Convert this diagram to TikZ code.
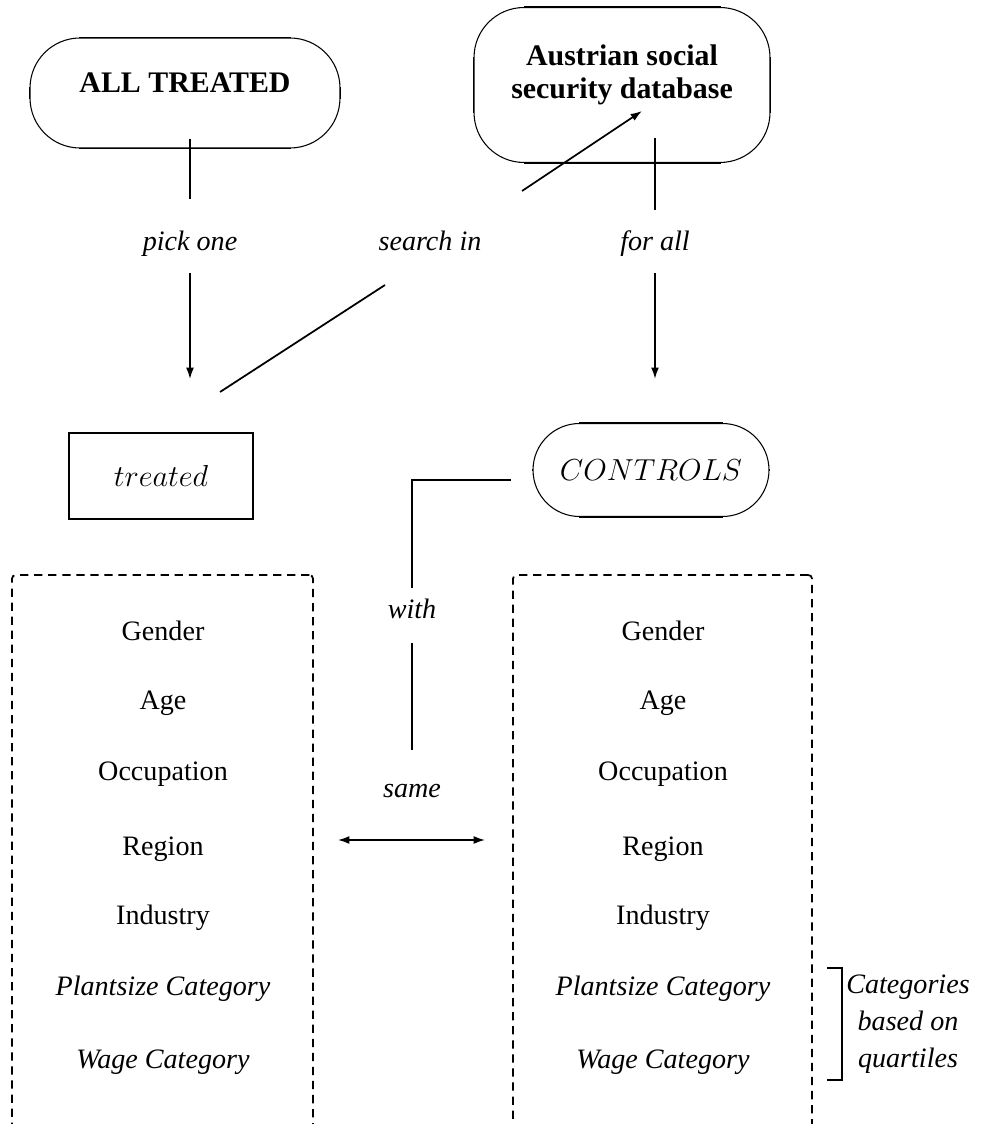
\documentclass[tikz,border=0pt]{standalone}
\usepackage{fontspec}
\setmainfont{Liberation Serif}
\usetikzlibrary{arrows.meta}

\newcommand\diagfont{\fontsize{16}{21}\selectfont}
\newcommand\headfont{\fontsize{17}{18.5}\selectfont\bfseries}
\newcommand\mathsz{\fontsize{16.5}{19}\selectfont}

\tikzset{
  oval/.style={draw, line width=0.6pt, rounded corners=1cm, inner sep=0pt},
  lbl/.style={font=\diagfont\itshape, inner sep=0pt, text height=12pt, text depth=4pt},
  attr/.style={font=\diagfont, inner sep=0pt, text height=12pt, text depth=4pt},
  attrbox/.style={draw, dash pattern=on 4.7pt off 3.3pt, rounded corners=2pt}
}

\begin{document}
\begin{tikzpicture}[x=0.02cm, y=-0.02cm, line width=1pt, font=\diagfont,
    >={Latex[length=6.5pt,width=4.5pt]}]
\useasboundingbox (0,0) rectangle (984,1124);

% sources
\node[oval, minimum width=6.2cm, minimum height=2.2cm] (all) at (185,93)
     {\raisebox{0pt}[0pt][0pt]{\headfont ALL TREATED}};
\node[oval, minimum width=5.92cm, minimum height=3.1cm] (db) at (622,85) {};
\node[font=\headfont, align=center] (dbtext) at (622,75)
     {Austrian social\\security database};

\node[draw, minimum width=3.68cm, minimum height=1.72cm, font=\mathsz] (treated) at (161,476) {$treated$};
\node[oval, rounded corners=0.93cm, minimum width=4.72cm, minimum height=1.86cm, font=\mathsz]
     (ctrl) at (651,470) {$CONTROLS$};

% straight parts of the ovals
\foreach \n/\r in {all/1cm, db/1cm, ctrl/0.93cm}
  \draw ([xshift=\r]\n.north west) -- ([xshift=-\r]\n.north east)
        ([xshift=\r]\n.south west) -- ([xshift=-\r]\n.south east)
        ([yshift=-\r]\n.north west) -- ([yshift=\r]\n.south west)
        ([yshift=-\r]\n.north east) -- ([yshift=\r]\n.south east);

% labels on the way
\node[lbl] (pick) at (190,243) {pick one};
\node[lbl] (search) at (430,243) {search in};
\node[lbl] (forall) at (655,243) {for all};
\node[lbl] (with) at (412,611) {with};
\node[lbl] (same) at (412,790) {same};

\draw[shorten <=-0.2cm, shorten >=0.58cm] (all.south -| pick) -- (pick.north);
\draw[->, shorten <=0.3cm, shorten >=1.06cm] (pick.south) -- (pick.south |- treated.north);

\draw[shorten <=-0.5cm, shorten >=0.36cm] (db.south -| forall) -- (forall.north);
\draw[->, shorten <=0.3cm, shorten >=0.88cm] (forall.south) -- (forall.south |- ctrl.north);

\coordinate (s1) at (220,392);
\coordinate (s2) at (385,285);
\coordinate (s3) at (522,191);
\coordinate (s4) at (642,111);
\draw (s1) -- (s2);
\draw[->] (s3) -- (s4);

\draw[shorten <=0.44cm, shorten >=0.16cm] ([yshift=-0.2cm]ctrl.west) -| (with.north);
\draw[shorten <=0.34cm, shorten >=0.5cm] (with.south) -- (same.north);

% matching variables
\node[attrbox, minimum width=6.02cm, minimum height=12cm] (lbox) at (162.5,875) {};
\node[attrbox, minimum width=5.98cm, minimum height=12cm] (rbox) at (662.5,875) {};

\foreach \t/\y [count=\i] in {Gender/633, Age/702, Occupation/773, Region/848,
    Industry/917, \textit{Plantsize Category}/988, \textit{Wage Category}/1061} {
  \node[attr] (l\i) at (163,\y) {\t};
  \node[attr] (r\i) at (663,\y) {\t};
}

\coordinate (link) at (412,840);
\draw[<->, shorten <=0.48cm, shorten >=0.54cm] (lbox.east |- link) -- (rbox.west |- link);

% quartile note
\coordinate (bt) at (827,968);
\coordinate (bb) at (827,1080);
\draw (bt) -- ++(15,0) |- (bb);
\node[font=\diagfont\itshape, align=center] (cat) at (908,1024) {Categories\\based on\\quartiles};
\end{tikzpicture}
\end{document}
